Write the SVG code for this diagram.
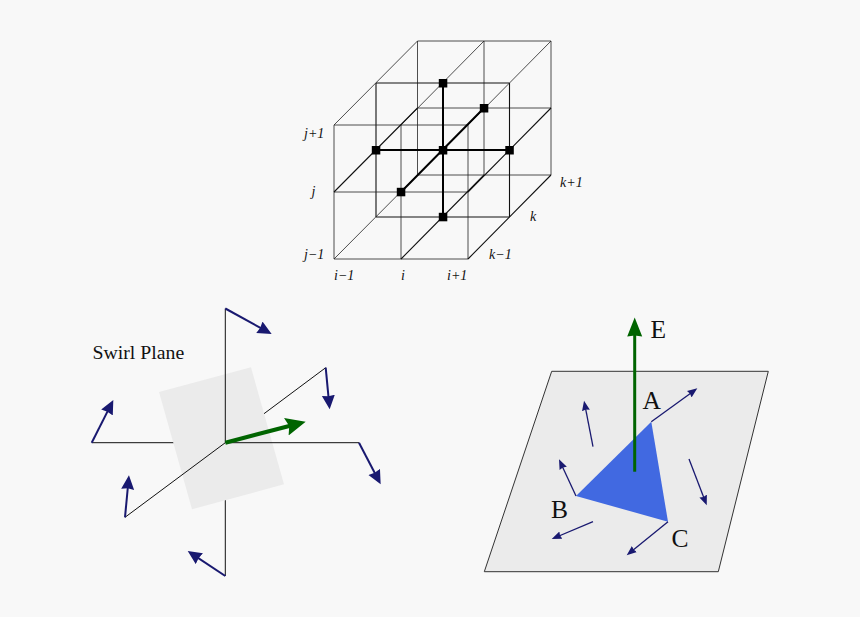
<svg xmlns="http://www.w3.org/2000/svg" width="860" height="617" viewBox="0 0 860 617">
<style>
.g{fill:none;stroke:#222;stroke-width:.8}
.h{fill:none;stroke:#111;stroke-width:1.1}
.t{fill:none;stroke:#000;stroke-width:2}
.w{fill:none;stroke:#111;stroke-width:1}
.n{fill:none;stroke:#191970;stroke-width:2}
.f{fill:none;stroke:#191970;stroke-width:1.3}
.d{fill:none;stroke:#006400}
.m{font:italic 14px "Liberation Serif",serif;fill:#111}
.l{font:25.500px "Liberation Serif",serif;fill:#111}
.p{fill:#ebebeb}
</style>
<defs>
<marker id="a1" markerUnits="userSpaceOnUse" markerWidth="16" markerHeight="14" refX="8" refY="7" orient="auto"><path d="M0 .5L14 7L0 13.500L1 7z" fill="#191970"/></marker>
<marker id="a2" markerUnits="userSpaceOnUse" markerWidth="11" markerHeight="9" refX="6" refY="4.500" orient="auto"><path d="M0 .5L10 4.500L0 8.500L1 4.500z" fill="#191970"/></marker>
<marker id="a3" markerUnits="userSpaceOnUse" markerWidth="25" markerHeight="20" refX="10" refY="9" orient="auto"><path d="M0 0L20 9L0 18L3 9z" fill="#006400"/></marker>
<marker id="a4" markerUnits="userSpaceOnUse" markerWidth="20" markerHeight="16" refX="11" refY="7.500" orient="auto"><path d="M0 0L19 7.500L0 15L1 7.500z" fill="#006400"/></marker>
</defs>
<rect width="860" height="617" fill="#f8f8f8"/>

<g id="connectors">
<g id="grid-lines">
<path class="g" d="M417.500 41H551M417.500 108H551M417.500 175H551M417.500 41V175M484 41V175M551 41V175"/>
<path class="h" d="M376 83H509.500M376 217H509.500M376 83V217M509.500 83V217"/>
<path class="g" d="M334 125H468M334 192H468M334 259H468M334 125V259M401 125V259M468 125V259"/>
<path class="g" d="M334 125L417.500 41M401 125L484 41M468 125L551 41M334 259L417.500 175"/>
<path class="h" d="M334 192L417.500 108M468 192L551 108M401 259L484 175M468 259L551 175"/>
<path class="t" d="M376 150H509.500M443 83V217M401 192L484 108"/>
</g>
<g id="swirl-back-lines">
<path class="w" d="M225.300 576V442.700M91.700 442.700H225.300M264 413.700L325.700 367.700"/>
</g>
</g>

<g id="grid-nodes" fill="#000">
<rect id="node-top" x="438.800" y="79" width="8.500" height="8.500"/>
<rect id="node-back" x="479.800" y="104" width="8.500" height="8.500"/>
<rect id="node-left" x="371.800" y="146" width="8.500" height="8.500"/>
<rect id="node-centre" x="438.800" y="146" width="8.500" height="8.500"/>
<rect id="node-right" x="505.300" y="146" width="8.500" height="8.500"/>
<rect id="node-front" x="396.800" y="187.800" width="8.500" height="8.500"/>
<rect id="node-bottom" x="438.800" y="212.800" width="8.500" height="8.500"/>
</g>

<g id="grid-labels">
<text class="m" x="304" y="138">j+1</text>
<text class="m" x="311.500" y="196">j</text>
<text class="m" x="304" y="259">j−1</text>
<text class="m" x="334" y="280">i−1</text>
<text class="m" x="401" y="280">i</text>
<text class="m" x="447" y="280">i+1</text>
<text class="m" x="489" y="259">k−1</text>
<text class="m" x="530" y="221">k</text>
<text class="m" x="560" y="187">k+1</text>
</g>

<g id="swirl-plane">
<polygon class="p" points="159,392 251,367.300 284,484.300 192,509.300"/>
<text x="92.500" y="359" font-family="'Liberation Serif',serif" font-size="19.800" fill="#111">Swirl Plane</text>
</g>
<g id="swirl-front-lines">
<path class="w" d="M225.300 308.500V442.700H359M225.300 442.700L125 517.300"/>
</g>
<g id="swirl-arrows">
<path class="n" marker-end="url(#a1)" d="M225.300 308.500L266.400 331.100"/>
<path class="n" marker-end="url(#a1)" d="M225.300 576L192.700 554.300"/>
<path class="n" marker-end="url(#a1)" d="M91.700 442.700L110.600 405.400"/>
<path class="n" marker-end="url(#a1)" d="M359 442.700L377.900 479"/>
<path class="n" marker-end="url(#a1)" d="M325.700 367.700L329.100 403.300"/>
<path class="n" marker-end="url(#a1)" d="M125 517.300L128.400 481.300"/>
<path class="d" stroke-width="4" marker-end="url(#a3)" d="M225.300 442.700L296 424.200"/>
</g>

<g id="flux-plane">
<polygon points="551.700,371.300 768.300,371.300 718.300,571.700 484.300,571.700" fill="#ebebeb" stroke="#333" stroke-width="1"/>
</g>
<g id="flux-triangle">
<polygon points="651.300,421.700 576,496 668,521.700" fill="#4169e1"/>
</g>
<g id="flux-arrows">
<path class="f" marker-end="url(#a2)" d="M651.300 421.700L694.100 390.700"/>
<path class="f" marker-end="url(#a2)" d="M576 496L560.700 462.900"/>
<path class="f" marker-end="url(#a2)" d="M668 521.700L629.800 552.800"/>
<path class="f" marker-end="url(#a2)" d="M593 446.700L584.800 404.600"/>
<path class="f" marker-end="url(#a2)" d="M689 459L705.300 501.600"/>
<path class="f" marker-end="url(#a2)" d="M593 521.700L555.400 537.500"/>
<path class="d" stroke-width="3" marker-end="url(#a4)" d="M634.700 471.700V325.500"/>
</g>
<g id="flux-labels">
<text class="l" x="650.500" y="338">E</text>
<text class="l" x="642.500" y="409">A</text>
<text class="l" x="551" y="518">B</text>
<text class="l" x="671.500" y="547">C</text>
</g>
</svg>
